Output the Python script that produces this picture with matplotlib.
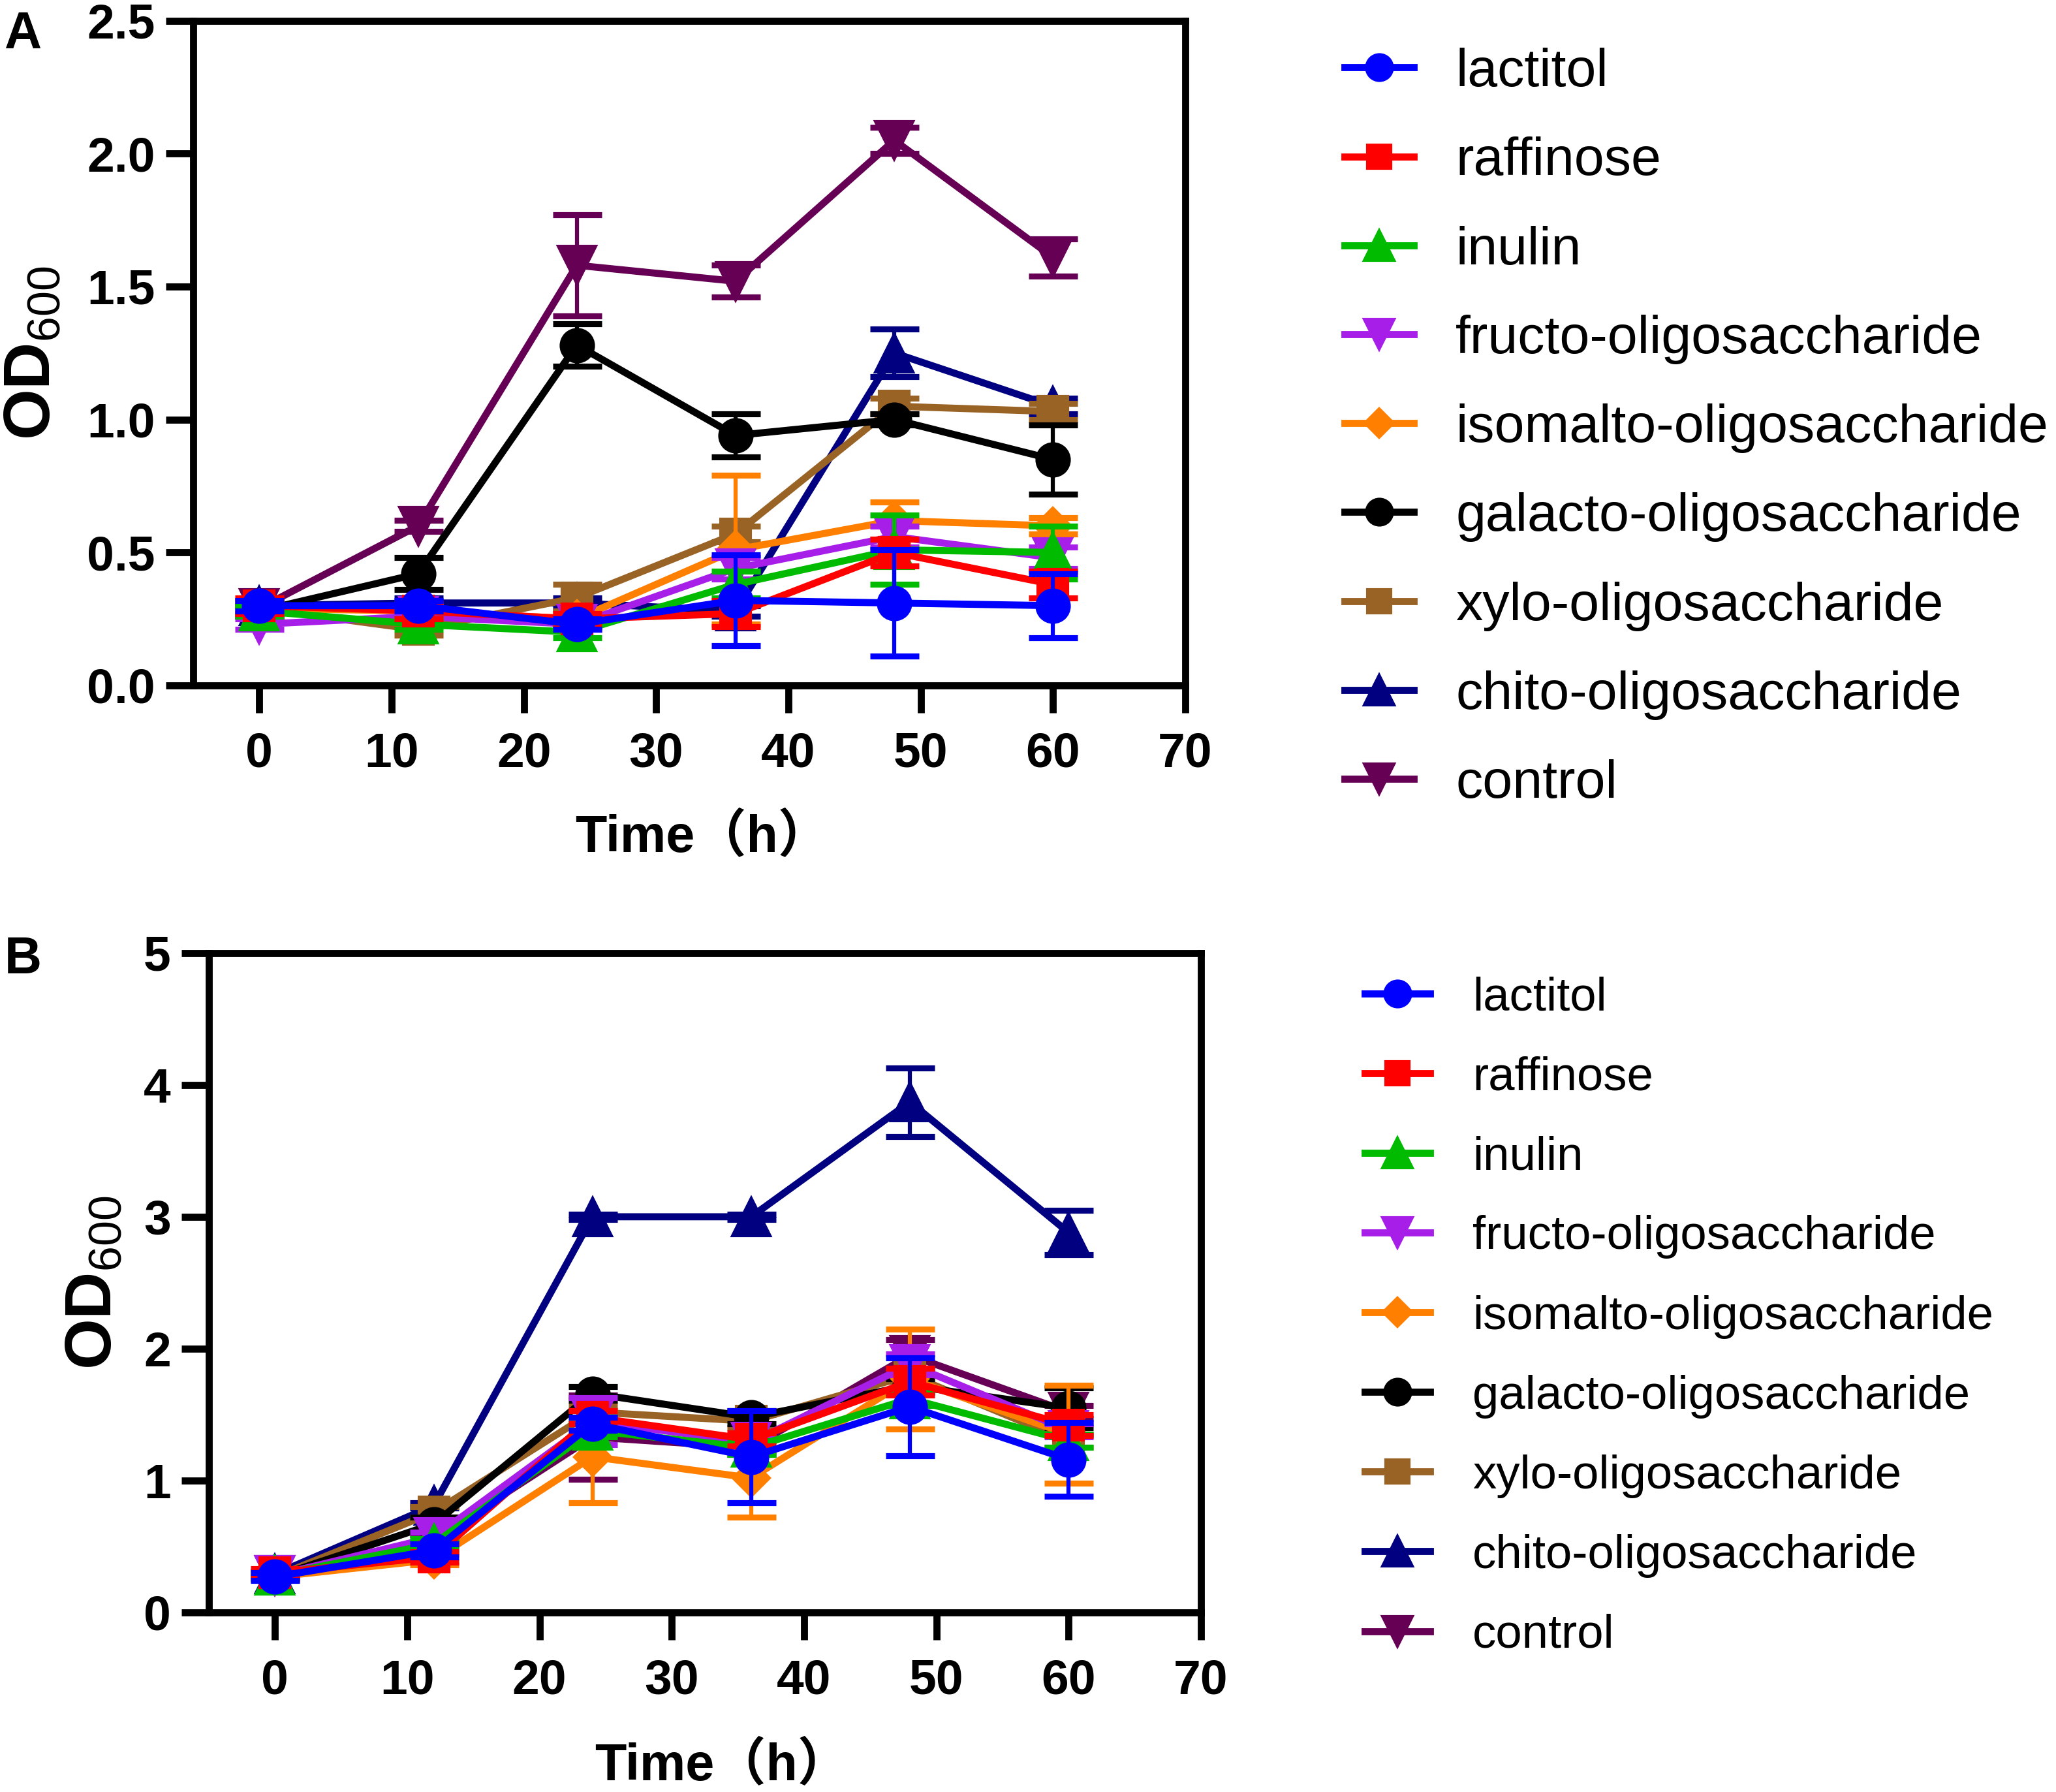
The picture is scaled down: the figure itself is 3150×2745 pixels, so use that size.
import matplotlib.pyplot as plt
from matplotlib.ticker import FormatStrFormatter

plt.rcParams['font.family'] = ['Liberation Sans', 'Noto Sans CJK SC']
plt.rcParams['mathtext.fontset'] = 'custom'
plt.rcParams['mathtext.rm'] = 'Liberation Sans'
plt.rcParams['mathtext.bf'] = 'Liberation Sans:bold'

hours = [0, 12, 24, 36, 48, 60]
names = ['lactitol', 'raffinose', 'inulin', 'fructo-oligosaccharide',
         'isomalto-oligosaccharide', 'galacto-oligosaccharide',
         'xylo-oligosaccharide', 'chito-oligosaccharide', 'control']
colors = ['#0000FF', '#FF0000', '#00BB00', '#A61EE8', '#FF8000',
          '#000000', '#996326', '#000080', '#660055']
markers = ['o', 's', '^', 'v', 'D', 'o', 's', '^', 'v']
msizes = [12, 11, 14, 14, 9.5, 12, 11, 14, 14]

# panel A: OD600 means and SD
a_lactitol = [0.30, 0.30, 0.23, 0.32, 0.31, 0.30]
a_raffinose = [0.30, 0.28, 0.25, 0.27, 0.50, 0.38]
a_inulin = [0.28, 0.23, 0.20, 0.38, 0.51, 0.50]
a_fructo = [0.23, 0.26, 0.23, 0.44, 0.56, 0.48]
a_isomalto = [0.29, 0.28, 0.25, 0.51, 0.62, 0.60]
a_galacto = [0.28, 0.42, 1.28, 0.94, 1.00, 0.85]
a_xylo = [0.29, 0.21, 0.33, 0.57, 1.05, 1.03]
a_chito = [0.30, 0.31, 0.31, 0.28, 1.25, 1.05]
a_control = [0.29, 0.60, 1.58, 1.52, 2.05, 1.61]

a_lactitol_sd = [0.02, 0.02, 0.02, 0.17, 0.20, 0.12]
a_raffinose_sd = [0.03, 0.03, 0.02, 0.05, 0.05, 0.05]
a_inulin_sd = [0.02, 0.02, 0.02, 0.05, 0.13, 0.10]
a_fructo_sd = [0.02, 0.02, 0.02, 0.04, 0.04, 0.04]
a_isomalto_sd = [0.02, 0.02, 0.02, 0.28, 0.07, 0.03]
a_galacto_sd = [0.02, 0.06, 0.08, 0.08, 0.02, 0.13]
a_xylo_sd = [0.02, 0.02, 0.05, 0.03, 0.03, 0.03]
a_chito_sd = [0.02, 0.02, 0.02, 0.02, 0.09, 0.03]
a_control_sd = [0.02, 0.02, 0.19, 0.06, 0.05, 0.07]

# panel B
b_lactitol = [0.27, 0.47, 1.43, 1.18, 1.56, 1.16]
b_raffinose = [0.30, 0.42, 1.48, 1.31, 1.75, 1.42]
b_inulin = [0.28, 0.52, 1.38, 1.25, 1.62, 1.30]
b_fructo = [0.28, 0.57, 1.45, 1.29, 1.88, 1.38]
b_isomalto = [0.27, 0.40, 1.18, 1.02, 1.77, 1.35]
b_galacto = [0.27, 0.67, 1.66, 1.48, 1.72, 1.55]
b_xylo = [0.27, 0.76, 1.52, 1.45, 1.80, 1.30]
b_chito = [0.29, 0.81, 3.00, 3.00, 3.87, 2.88]
b_control = [0.28, 0.55, 1.33, 1.25, 1.95, 1.52]

b_lactitol_sd = [0.03, 0.05, 0.05, 0.35, 0.37, 0.28]
b_raffinose_sd = [0.03, 0.04, 0.05, 0.05, 0.10, 0.08]
b_inulin_sd = [0.02, 0.04, 0.05, 0.05, 0.05, 0.05]
b_fructo_sd = [0.02, 0.04, 0.18, 0.05, 0.08, 0.05]
b_isomalto_sd = [0.02, 0.04, 0.35, 0.30, 0.38, 0.37]
b_galacto_sd = [0.02, 0.05, 0.05, 0.05, 0.05, 0.15]
b_xylo_sd = [0.02, 0.04, 0.05, 0.05, 0.05, 0.05]
b_chito_sd = [0.02, 0.02, 0.02, 0.02, 0.26, 0.17]
b_control_sd = [0.02, 0.04, 0.32, 0.05, 0.12, 0.05]

a_means = [a_lactitol, a_raffinose, a_inulin, a_fructo, a_isomalto,
           a_galacto, a_xylo, a_chito, a_control]
a_sds = [a_lactitol_sd, a_raffinose_sd, a_inulin_sd, a_fructo_sd, a_isomalto_sd,
         a_galacto_sd, a_xylo_sd, a_chito_sd, a_control_sd]
b_means = [b_lactitol, b_raffinose, b_inulin, b_fructo, b_isomalto,
           b_galacto, b_xylo, b_chito, b_control]
b_sds = [b_lactitol_sd, b_raffinose_sd, b_inulin_sd, b_fructo_sd, b_isomalto_sd,
         b_galacto_sd, b_xylo_sd, b_chito_sd, b_control_sd]


def draw_panel(ax, means, sds):
    handles = []
    for i in range(len(names)):
        z = 30 - 2 * i  # first series on top, like Prism
        ax.errorbar(hours, means[i], yerr=sds[i], fmt='none', ecolor=colors[i],
                    elinewidth=1.5, capsize=9, capthick=2.2, zorder=z - 1)
        ln, = ax.plot(hours, means[i], color=colors[i], lw=2.6, marker=markers[i],
                      ms=msizes[i], mec=colors[i], label=names[i], zorder=z)
        handles.append(ln)
    ax.set_xlim(-5, 70)
    ax.set_xticks(range(0, 71, 10))
    for s in ax.spines.values():
        s.set_linewidth(2.6)
    ax.tick_params(direction='out', length=10, width=2.6, labelsize=18)
    ax.tick_params(axis='x', pad=7)
    ax.tick_params(axis='y', pad=4)
    return handles


fig = plt.figure(figsize=(10.5, 9.15), dpi=300)

# ---- panel A
ax1 = fig.add_axes([0.094, 0.6175, 0.4825, 0.371])
h1 = draw_panel(ax1, a_means, a_sds)
ax1.set_ylim(0, 2.5)
ax1.set_yticks([0, 0.5, 1.0, 1.5, 2.0, 2.5])
ax1.yaxis.set_major_formatter(FormatStrFormatter('%.1f'))
for lab in ax1.get_xticklabels() + ax1.get_yticklabels():
    lab.set_fontweight('bold')
ax1.set_ylabel(r'$\mathbf{OD}_{600}$', fontsize=24, va='center')
ax1.yaxis.set_label_coords(-0.162, 0.5)
ax1.set_xlabel('Time（h）', fontsize=19, fontweight='bold', va='center')
ax1.xaxis.set_label_coords(0.513, -0.230)
fig.legend(handles=h1, labels=names, loc='center left',
           bbox_to_anchor=(0.654, 0.761), frameon=False, fontsize=19.8,
           borderpad=0, borderaxespad=0, handlelength=1.28, handletextpad=0.78,
           labelspacing=0.73, markerscale=0.8)

# ---- panel B
ax2 = fig.add_axes([0.1016, 0.1002, 0.4825, 0.368])
h2 = draw_panel(ax2, b_means, b_sds)
ax2.set_ylim(0, 5)
ax2.set_yticks(range(0, 6))
for lab in ax2.get_xticklabels() + ax2.get_yticklabels():
    lab.set_fontweight('bold')
ax2.set_ylabel(r'$\mathbf{OD}_{600}$', fontsize=24, va='center')
ax2.yaxis.set_label_coords(-0.116, 0.5)
ax2.set_xlabel('Time（h）', fontsize=19, fontweight='bold', va='center')
ax2.xaxis.set_label_coords(0.517, -0.234)
fig.legend(handles=h2, labels=names, loc='center left',
           bbox_to_anchor=(0.6638, 0.2652), frameon=False, fontsize=17.4,
           borderpad=0, borderaxespad=0, handlelength=1.38, handletextpad=0.9,
           labelspacing=0.76, markerscale=0.8)

fig.text(0.002, 0.994, 'A', fontsize=19, fontweight='bold', va='top')
fig.text(0.002, 0.478, 'B', fontsize=19, fontweight='bold', va='top')

fig.savefig('out.png', dpi=300)
